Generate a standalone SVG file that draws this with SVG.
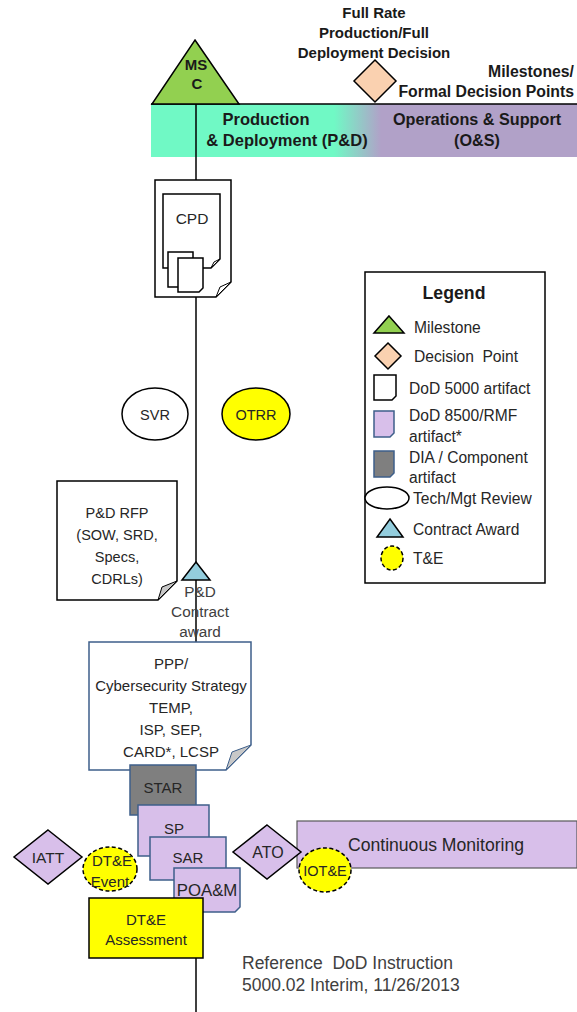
<svg xmlns="http://www.w3.org/2000/svg" width="577" height="1012" viewBox="0 0 577 1012">
<defs>
<linearGradient id="band" x1="151" y1="0" x2="577" y2="0" gradientUnits="userSpaceOnUse">
<stop offset="0" stop-color="#70F9C5"/>
<stop offset="0.43" stop-color="#70F9C5"/>
<stop offset="0.54" stop-color="#B1A1C8"/>
<stop offset="1" stop-color="#B1A1C8"/>
</linearGradient>
</defs>
<style>
text{font-family:"Liberation Sans",Arial,sans-serif;font-size:14.5px;fill:#262626}
.b{font-weight:bold;fill:#1a1a1a}
.c{text-anchor:middle}
.g{fill:#404040}
.lg{font-size:15.6px}
.blk{stroke:#000;stroke-width:1.5}
.blu{stroke:#3E5F8A;stroke-width:1.5}
.purple{fill:#D8BFEA}
.yel{fill:#FFFF00}
.dash{stroke:#000;stroke-width:1.5;stroke-dasharray:4 2.5}
.fold{fill:#C8C8C8;stroke:#000;stroke-width:1}
</style>
<rect width="577" height="1012" fill="#fff"/>

<g id="phase-band">
<rect x="151" y="104" width="426" height="53" fill="url(#band)"/>
<line x1="151" y1="104" x2="577" y2="104" stroke="#000" stroke-width="1.5"/>
<text class="b c" x="266" y="125" style="font-size:16.5px">Production</text>
<text class="b c" x="287" y="146" style="font-size:16.5px">&amp; Deployment (P&amp;D)</text>
<text class="b c" x="477" y="125" style="font-size:16.2px">Operations &amp; Support</text>
<text class="b c" x="477" y="146" style="font-size:16.2px">(O&amp;S)</text>
</g>

<g id="connectors" stroke="#000" stroke-width="1.5" fill="none">
<line x1="196" y1="104" x2="196" y2="180"/>
<line x1="196" y1="297" x2="196" y2="562"/>
<line x1="196" y1="580" x2="196" y2="642"/>
<line x1="196" y1="958" x2="196" y2="1012"/>
</g>

<g id="msc">
<polygon points="195,40 239,104 152,104" fill="#92D050" class="blk"/>
<text class="b c" x="196" y="70" style="font-size:15px">MS</text>
<text class="b c" x="197" y="89" style="font-size:15px">C</text>
</g>

<g id="frp-decision">
<polygon points="375,60 396,81 375,102 354,81" fill="#FAD1B0" class="blk"/>
<text class="b c" x="374" y="18" style="font-size:15px">Full Rate</text>
<text class="b c" x="374" y="38" style="font-size:15px">Production/Full</text>
<text class="b c" x="374" y="58" style="font-size:15px">Deployment Decision</text>
</g>

<g id="milestones-label">
<text class="b" x="574" y="77" text-anchor="end" style="font-size:15.8px">Milestones/</text>
<text class="b" x="574" y="97" text-anchor="end" style="font-size:15.8px">Formal Decision Points</text>
</g>

<g id="cpd">
<path d="M155,180 H231 V282 L216,297 H155 Z" fill="#fff" class="blk"/>
<path d="M216,297 L220,287 L231,282 Z" fill="#fff" stroke="#000" stroke-width="1"/>
<path d="M163,194 H220 V259 L211,268 H163 Z" fill="#fff" class="blk"/>
<path d="M211,268 L214,262 L220,259 Z" fill="#fff" stroke="#000" stroke-width="1"/>
<text class="c" x="192" y="224" style="font-size:15.5px">CPD</text>
<path d="M168,252 H193 V287 H168 Z" fill="#fff" class="blk"/>
<path d="M178,258 H203 V288 L199,292 H178 Z" fill="#fff" class="blk"/>
</g>

<g id="svr">
<ellipse cx="155" cy="414" rx="33" ry="26" fill="#fff" class="blk"/>
<text class="c" x="155" y="420">SVR</text>
</g>

<g id="otrr">
<ellipse cx="256" cy="414" rx="34" ry="26" class="yel blk"/>
<text class="c" x="256" y="420">OTRR</text>
</g>

<g id="pd-rfp">
<path d="M57,481 H177 V581 L158,600 H57 Z" fill="#fff" class="blk"/>
<path d="M158,600 L162,587 L177,581 Z" class="fold"/>
<text class="c" x="117" y="518">P&amp;D RFP</text>
<text class="c" x="117" y="540">(SOW, SRD,</text>
<text class="c" x="117" y="562">Specs,</text>
<text class="c" x="117" y="584">CDRLs)</text>
</g>

<g id="contract-award">
<polygon points="196,562 210,580 182,580" fill="#93CDDD" class="blk"/>
<text class="c g" x="200" y="597" style="font-size:15.3px">P&amp;D</text>
<text class="c g" x="200" y="617" style="font-size:15.3px">Contract</text>
<text class="c g" x="200" y="637" style="font-size:15.3px">award</text>
</g>

<g id="ppp">
<path d="M89,642 H251 V745 L226,770 H89 Z" fill="#fff" class="blu"/>
<path d="M226,770 L232,752 L251,745 Z" fill="#C8C8C8" stroke="#3E5F8A" stroke-width="1"/>
<text class="c" x="171" y="669" style="font-size:15px">PPP/</text>
<text class="c" x="171" y="691" style="font-size:15px">Cybersecurity Strategy</text>
<text class="c" x="171" y="713" style="font-size:15px">TEMP,</text>
<text class="c" x="171" y="735" style="font-size:15px">ISP, SEP,</text>
<text class="c" x="171" y="757" style="font-size:15px">CARD*, LCSP</text>
</g>

<g id="star">
<rect x="130" y="765" width="66" height="50" fill="#7F7F7F" class="blu"/>
<text class="c" x="163" y="793" style="font-size:15px">STAR</text>
</g>

<g id="sp">
<rect x="138" y="805" width="71" height="51" class="purple blu"/>
<text class="c" x="174" y="834" style="font-size:15px">SP</text>
</g>

<g id="sar">
<rect x="150" y="837" width="76" height="43" class="purple blu"/>
<text class="c" x="188" y="863" style="font-size:15px">SAR</text>
</g>

<g id="poam">
<path d="M174,868 H240 V907 L235,912 H174 Z" class="purple blu"/>
<text class="c" x="207" y="896" style="font-size:16.8px">POA&amp;M</text>
</g>

<g id="iatt">
<polygon points="48,830 82,857 48,884 14,857" class="purple blk"/>
<text class="c" x="48" y="863" style="font-size:15.5px">IATT</text>
</g>

<g id="dte-event">
<ellipse cx="110" cy="869" rx="27" ry="22" class="yel dash"/>
<text class="c" x="112" y="866" style="font-size:15px">DT&amp;E</text>
<text class="c" x="110" y="887" style="font-size:15px">Event</text>
</g>

<g id="continuous-monitoring">
<rect x="297" y="821" width="280" height="47" class="purple" stroke="#595959" stroke-width="1.2"/>
<text class="c" x="436" y="851" style="font-size:17.6px">Continuous Monitoring</text>
</g>

<g id="ato">
<polygon points="267,825 301,852 267,879 233,852" class="purple blk"/>
<text class="c" x="268" y="858" style="font-size:16px">ATO</text>
</g>

<g id="iote">
<ellipse cx="325" cy="870" rx="26" ry="22" class="yel dash"/>
<text class="c" x="325" y="876">IOT&amp;E</text>
</g>

<g id="dte-assessment">
<rect x="89" y="898" width="114" height="60" class="yel blk"/>
<text class="c" x="146" y="925" style="font-size:15px">DT&amp;E</text>
<text class="c" x="146" y="945" style="font-size:15px">Assessment</text>
</g>

<g id="reference-note">
<text class="g" x="242" y="969" xml:space="preserve" style="font-size:17.5px">Reference  DoD Instruction</text>
<text class="g" x="242" y="991" style="font-size:17.5px">5000.02 Interim, 11/26/2013</text>
</g>

<g id="legend">
<rect x="365" y="272" width="180" height="311" fill="#fff" class="blk"/>
<text class="b c" x="454" y="299" style="font-size:17.7px">Legend</text>
<polygon points="389,316 404,333 374,333" fill="#92D050" class="blk"/>
<text class="lg" x="414" y="333">Milestone</text>
<polygon points="388,343 401,356 388,369 375,356" fill="#FAD1B0" class="blk"/>
<text class="lg" x="414" y="362" xml:space="preserve">Decision  Point</text>
<path d="M374,375 H396 V396 L392,400 H374 Z" fill="#fff" class="blk"/>
<text class="lg" x="409" y="394">DoD 5000 artifact</text>
<path d="M374,411 H394 V433 L390,437 H374 Z" class="purple blu"/>
<text class="lg" x="409" y="421">DoD 8500/RMF</text>
<text class="lg" x="409" y="442">artifact*</text>
<path d="M374,451 H394 V473 L390,477 H374 Z" fill="#7F7F7F" class="blu"/>
<text class="lg" x="409" y="463">DIA / Component</text>
<text class="lg" x="409" y="483">artifact</text>
<ellipse cx="387" cy="498" rx="22" ry="11" fill="#fff" class="blk"/>
<text class="lg" x="413" y="504">Tech/Mgt Review</text>
<polygon points="390,519 403,537 377,537" fill="#93CDDD" class="blk"/>
<text class="lg" x="413" y="535">Contract Award</text>
<ellipse cx="392" cy="558" rx="11" ry="12" class="yel dash"/>
<text class="lg" x="413" y="564">T&amp;E</text>
</g>
</svg>
